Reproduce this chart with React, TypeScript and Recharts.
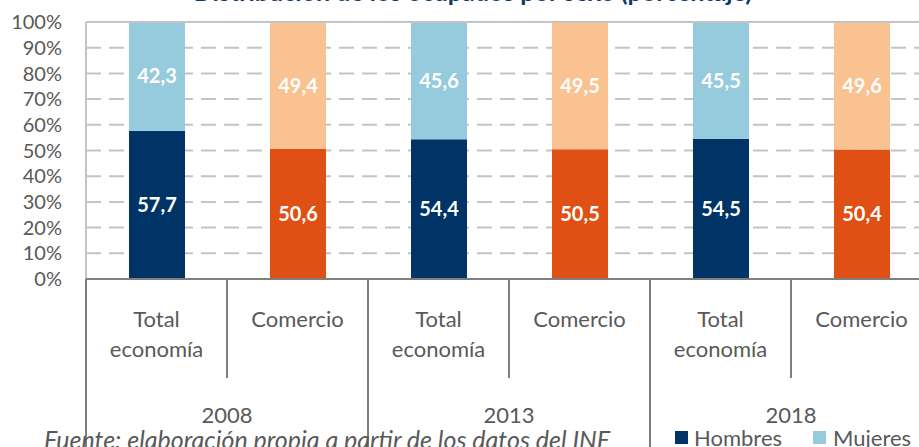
import React from 'react';
import { BarChart, Bar, XAxis, YAxis, CartesianGrid, ReferenceLine, LabelList, Cell } from 'recharts';

// Data
const categories = ['Total economía', 'Comercio', 'Total economía', 'Comercio', 'Total economía', 'Comercio'];
const years = ['2008', '2008', '2013', '2013', '2018', '2018'];
const hombres = [57.7, 50.6, 54.4, 50.5, 54.5, 50.4];
const mujeres = [42.3, 49.4, 45.6, 49.5, 45.5, 49.6];
const yTicks = [0, 10, 20, 30, 40, 50, 60, 70, 80, 90, 100];

const data = categories.map((cat, i) => ({
  name: `${cat}-${years[i]}`,
  cat,
  year: years[i],
  hombres: hombres[i],
  mujeres: mujeres[i],
}));

const CHART_W = 960;
const CHART_H = 447;
const MARGIN = { top: 22, right: 28, left: 0, bottom: 0 };
const Y_AXIS_W = 86;
const PLOT_W = CHART_W - MARGIN.left - MARGIN.right - Y_AXIS_W;
const FONT = 'Lato, "Noto Sans", sans-serif';
const GREY = '#595959';

const menColor = (cat: string) => (cat === 'Comercio' ? '#E05014' : '#003366');
const womenColor = (cat: string) => (cat === 'Comercio' ? '#FAC191' : '#96CBDD');

const fmt = (v: any) => Number(v).toFixed(1).replace('.', ',');

const CategoryTick = (props: any) => {
  const { x, y, payload, index } = props;
  const band = PLOT_W / data.length;
  const left = x - band / 2;
  const lines = String(payload.value).split(' ');
  const isPairEnd = index % 2 === 1;
  return (
    <g>
      <line x1={left} y1={y} x2={left} y2={isPairEnd ? y + 99 : CHART_H} stroke="#7f7f7f" strokeWidth={2} />
      <text x={x} y={y + 48} textAnchor="middle" fill={GREY} fontSize={22} fontFamily={FONT}>
        {lines.map((l, i) => (
          <tspan key={i} x={x} dy={i === 0 ? 0 : 30}>
            {l}
          </tspan>
        ))}
      </text>
      {isPairEnd && (
        <text x={left} y={y + 144} textAnchor="middle" fill={GREY} fontSize={22} fontFamily={FONT}>
          {data[index].year}
        </text>
      )}
    </g>
  );
};

export default function App() {
  return (
    <div style={{ position: 'fixed', left: 0, top: 0, width: 919, height: 447, overflow: 'hidden', background: '#fff' }}>
      <BarChart width={CHART_W} height={CHART_H} data={data} margin={MARGIN} barSize={56}>
        <CartesianGrid vertical={false} stroke="#c4c4c4" strokeWidth={2} strokeDasharray="15 8" />
        <ReferenceLine y={100} stroke="#c4c4c4" strokeWidth={2} />
        <YAxis
          width={Y_AXIS_W}
          domain={[0, 100]}
          ticks={yTicks}
          interval={0}
          tickFormatter={(v) => `${v}%`}
          tickLine={false}
          tickMargin={18}
          axisLine={{ stroke: '#c4c4c4', strokeWidth: 2 }}
          tick={{ fill: GREY, fontSize: 20, fontFamily: FONT }}
        />
        <XAxis
          dataKey="cat"
          height={CHART_H - MARGIN.top - 257}
          interval={0}
          tickLine={false}
          tickSize={0}
          tickMargin={0}
          axisLine={{ stroke: '#7f7f7f', strokeWidth: 2 }}
          tick={<CategoryTick />}
        />
        <Bar dataKey="hombres" stackId="a" fill="#003366" isAnimationActive={false}>
          {data.map((d, i) => (
            <Cell key={i} fill={menColor(d.cat)} />
          ))}
          <LabelList dataKey="hombres" position="center" fill="#fff" fontSize={20} fontWeight={700} fontFamily={FONT} formatter={fmt} />
        </Bar>
        <Bar dataKey="mujeres" stackId="a" fill="#96CBDD" isAnimationActive={false}>
          {data.map((d, i) => (
            <Cell key={i} fill={womenColor(d.cat)} />
          ))}
          <LabelList dataKey="mujeres" position="center" fill="#fff" fontSize={20} fontWeight={700} fontFamily={FONT} formatter={fmt} />
        </Bar>
      </BarChart>
      <div
        style={{
          position: 'absolute',
          left: 0,
          width: 946,
          top: -24,
          textAlign: 'center',
          fontFamily: FONT,
          fontWeight: 700,
          fontSize: 25,
          lineHeight: 1.2,
          color: '#0E3A6B',
          whiteSpace: 'nowrap',
        }}
      >
        Distribución de los ocupados por sexo (porcentaje)
      </div>
      <div
        style={{
          position: 'absolute',
          left: 44,
          top: 424,
          fontFamily: FONT,
          fontStyle: 'italic',
          fontSize: 25,
          lineHeight: 1.2,
          color: GREY,
          whiteSpace: 'nowrap',
        }}
      >
        Fuente: elaboración propia a partir de los datos del INE
      </div>
      <div
        style={{
          position: 'absolute',
          left: 675,
          top: 424,
          display: 'flex',
          alignItems: 'center',
          fontFamily: FONT,
          fontSize: 22,
          color: GREY,
          whiteSpace: 'nowrap',
        }}
      >
        <span style={{ width: 13, height: 13, background: '#003366', display: 'inline-block', marginRight: 6 }} />
        <span style={{ marginRight: 31 }}>Hombres</span>
        <span style={{ width: 13, height: 13, background: '#96CBDD', display: 'inline-block', marginRight: 7 }} />
        <span>Mujeres</span>
      </div>
    </div>
  );
}
